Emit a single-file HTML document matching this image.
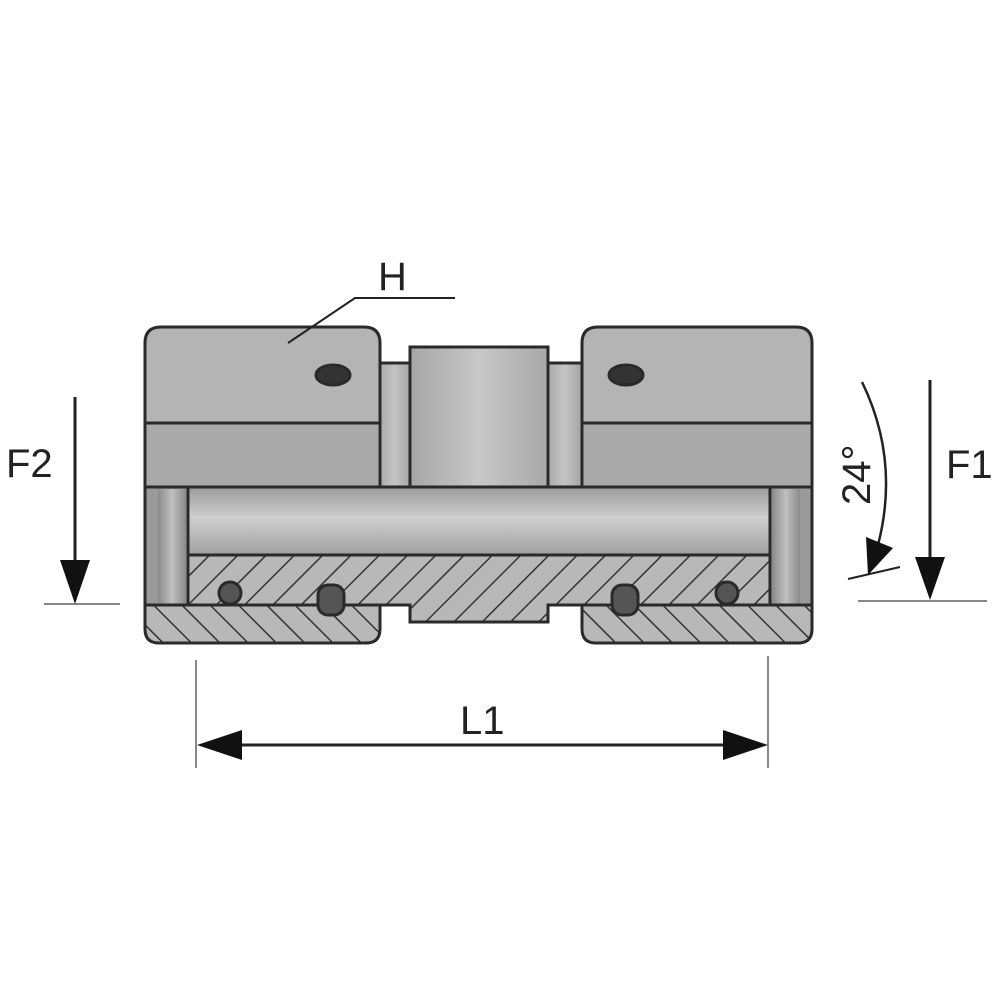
<!DOCTYPE html>
<html><head><meta charset="utf-8"><style>html,body{margin:0;padding:0;background:#fff}svg{display:block}</style></head>
<body>
<svg width="1000" height="1000" viewBox="0 0 1000 1000" xmlns="http://www.w3.org/2000/svg">
<defs>
<pattern id="h" width="20" height="20" patternUnits="userSpaceOnUse" patternTransform="rotate(45)">
<rect width="20" height="20" fill="#b8b8b8"/><line x1="0" y1="0" x2="0" y2="20" stroke="#333" stroke-width="3"/></pattern>
<pattern id="h2" width="20" height="20" patternUnits="userSpaceOnUse" patternTransform="rotate(-45)">
<rect width="20" height="20" fill="#b8b8b8"/><line x1="0" y1="0" x2="0" y2="20" stroke="#333" stroke-width="3"/></pattern>
<linearGradient id="tube" x1="0" y1="0" x2="0" y2="1"><stop offset="0" stop-color="#9a9a9a"/><stop offset="0.45" stop-color="#cfcfcf"/><stop offset="1" stop-color="#a0a0a0"/></linearGradient>
<linearGradient id="hex" x1="0" y1="0" x2="1" y2="0"><stop offset="0" stop-color="#a6a6a6"/><stop offset="0.5" stop-color="#c8c8c8"/><stop offset="1" stop-color="#a8a8a8"/></linearGradient>
<linearGradient id="neck" x1="0" y1="0" x2="1" y2="0"><stop offset="0" stop-color="#a8a8a8"/><stop offset="0.5" stop-color="#c4c4c4"/><stop offset="1" stop-color="#a0a0a0"/></linearGradient>
<linearGradient id="wall" x1="0" y1="0" x2="1" y2="0"><stop offset="0" stop-color="#8a8a8a"/><stop offset="0.5" stop-color="#c0c0c0"/><stop offset="1" stop-color="#8a8a8a"/></linearGradient>
</defs>
<g stroke="#2a2a2a" stroke-width="3">
<!-- necks -->
<rect x="378" y="363" width="34" height="124" fill="url(#neck)"/>
<rect x="546" y="363" width="38" height="124" fill="url(#neck)"/>
<rect x="410" y="347" width="138" height="140" fill="url(#hex)"/>
<!-- walls -->
<rect x="145" y="487" width="43" height="120" fill="#9a9a9a"/>
<rect x="158" y="489" width="28" height="116" fill="url(#wall)" stroke="none"/>
<rect x="770" y="487" width="42" height="120" fill="#9a9a9a"/>
<rect x="772" y="489" width="28" height="116" fill="url(#wall)" stroke="none"/>
<!-- body hatched -->
<path d="M188 555 H770 V605 H548 V622 H410 V605 H188 Z" fill="url(#h)"/>
<!-- bore -->
<rect x="188" y="487" width="582" height="68" fill="url(#tube)"/>
<!-- nut tops -->
<path d="M145 487 V343 Q145 327 161 327 H364 Q380 327 380 343 V487 Z" fill="#b4b4b4"/>
<rect x="147" y="424" width="231" height="62" fill="#a9a9a9" stroke="none"/>
<line x1="145" y1="423" x2="380" y2="423"/>
<path d="M582 487 V343 Q582 327 598 327 H796 Q812 327 812 343 V487 Z" fill="#b4b4b4"/>
<rect x="584" y="424" width="226" height="62" fill="#a9a9a9" stroke="none"/>
<line x1="582" y1="423" x2="812" y2="423"/>
<line x1="145" y1="487" x2="812" y2="487"/>
<!-- bottom strips -->
<path d="M145 605 H380 V629 Q380 643 366 643 H159 Q145 643 145 629 Z" fill="url(#h2)"/>
<path d="M582 605 H812 V629 Q812 643 798 643 H596 Q582 643 582 629 Z" fill="url(#h2)"/>
<!-- seals -->
<circle cx="230" cy="593" r="11" fill="#555"/>
<circle cx="727" cy="593" r="11" fill="#555"/>
<rect x="318" y="585" width="26" height="30" rx="10" fill="#555"/>
<rect x="612" y="585" width="26" height="30" rx="10" fill="#555"/>
<ellipse cx="333" cy="375" rx="17" ry="10" fill="#333"/>
<ellipse cx="626" cy="375" rx="17" ry="10" fill="#333"/>
</g>
<g stroke="#222" stroke-width="2" fill="none">
<path d="M288 343 L355 298 H455"/>
<line x1="44" y1="604" x2="120" y2="604" stroke="#888"/>
<line x1="75" y1="397" x2="75" y2="570" stroke-width="3"/>
<line x1="858" y1="601" x2="987" y2="601" stroke="#888"/>
<line x1="930" y1="380" x2="930" y2="565" stroke-width="3"/>
<path d="M862 382 Q900 460 878 545" stroke-width="2.5"/>
<line x1="848" y1="579" x2="900" y2="567"/>
<line x1="196" y1="660" x2="196" y2="768" stroke="#888"/>
<line x1="768" y1="656" x2="768" y2="768" stroke="#888"/>
<line x1="230" y1="745" x2="735" y2="745" stroke-width="3"/>
</g>
<g fill="#111">
<polygon points="60,560 90,560 75,604"/>
<polygon points="915,557 945,557 930,600"/>
<polygon points="866,537 893,548 868,575"/>
<polygon points="197,745 242,730 242,760"/>
<polygon points="768,745 723,730 723,760"/>
</g>
<g font-family="Liberation Sans, sans-serif" font-size="40" fill="#222">
<text x="378" y="290">H</text>
<text x="6" y="477">F2</text>
<text x="946" y="478">F1</text>
<text x="460" y="734">L1</text>
<text transform="translate(870,505) rotate(-90)">24°</text>
</g>
</svg>
</body></html>
